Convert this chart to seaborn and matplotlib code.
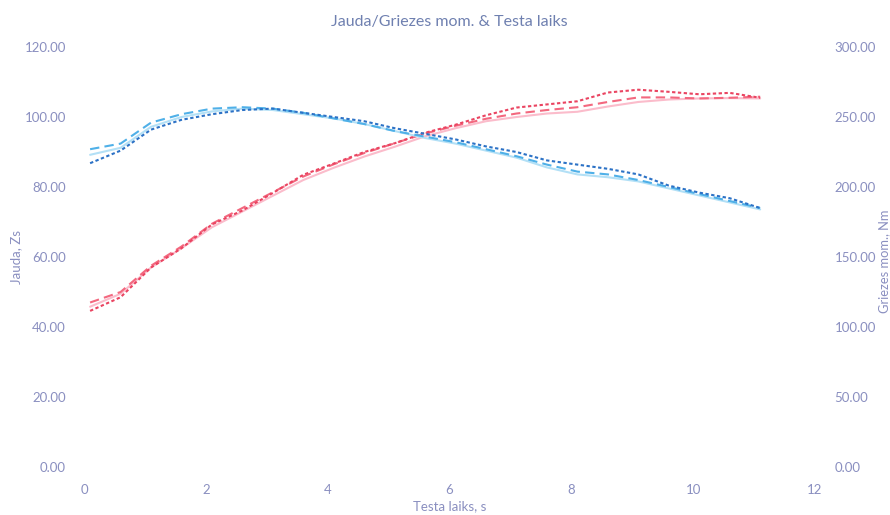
import numpy as np
import pandas as pd
import matplotlib
matplotlib.use("Agg")
import matplotlib.pyplot as plt
import seaborn as sns

# Test time samples, s
time_s = [0.1, 0.6, 1.1, 1.6, 2.1, 2.6, 3.1, 3.6, 4.1, 4.6, 5.1, 5.6,
          6.1, 6.6, 7.1, 7.6, 8.1, 8.6, 9.1, 9.6, 10.1, 10.6, 11.1]

# Power runs, Zs (left axis)
power_run1 = [44.6, 48.5, 57.0, 62.5, 69.3, 73.3, 78.3, 83.5, 86.7, 90.0, 92.5, 95.5,
              97.8, 100.5, 102.7, 103.6, 104.5, 107.0, 107.8, 107.2, 106.5, 106.9, 105.5]
power_run2 = [47.0, 50.0, 57.5, 63.0, 69.5, 74.0, 78.5, 83.0, 86.5, 89.7, 92.5, 95.3,
              97.5, 99.5, 101.0, 102.0, 102.8, 104.3, 105.6, 105.6, 105.3, 105.5, 105.8]
power_run3 = [45.8, 49.5, 57.0, 62.5, 68.5, 73.0, 77.5, 82.0, 85.5, 88.7, 91.5, 94.5,
              96.8, 98.8, 100.0, 101.0, 101.5, 103.0, 104.3, 105.0, 105.3, 105.4, 105.3]

# Torque runs, Nm (right axis)
torque_run1 = [217, 226, 241, 248, 252, 255, 256, 253, 250, 247, 242, 238,
               234, 229, 225, 219, 216, 213, 209, 201, 196, 192, 185]
torque_run2 = [227, 231, 246, 252, 256, 257, 256, 253, 249, 245, 240, 236,
               232, 227, 222, 216, 211, 209, 205, 200, 195, 190, 185]
torque_run3 = [223, 228, 243, 250, 254, 256, 255, 252, 249, 245, 240, 235,
               231, 226, 221, 214, 209, 207, 204, 199, 194, 189, 184]

x_ticks = [0, 2, 4, 6, 8, 10, 12]
left_ticks = [0, 20, 40, 60, 80, 100, 120]
right_ticks = [0, 50, 100, 150, 200, 250, 300]

sns.set_theme(style="white")
plt.rcParams["font.family"] = ["Lato", "DejaVu Sans"]

text_col = "#8a8fc0"
title_col = "#6f80b0"

fig = plt.figure(figsize=(8.9, 5.15), dpi=100)
ax = fig.add_axes([0.0944, 0.0932, 0.8213, 0.8155])
ax2 = ax.twinx()

df = pd.DataFrame({"t": time_s,
                   "p1": power_run1, "p2": power_run2, "p3": power_run3,
                   "m1": torque_run1, "m2": torque_run2, "m3": torque_run3})

lw = 1.5
# torque curves
sns.lineplot(data=df, x="t", y="m3", ax=ax2, color="#b3e0f6", lw=lw, linestyle="-")
sns.lineplot(data=df, x="t", y="m2", ax=ax2, color="#4fb0e8", lw=lw,
             linestyle=(0, (4.5, 2.5)))
sns.lineplot(data=df, x="t", y="m1", ax=ax2, color="#2c72c6", lw=lw,
             linestyle=(0, (1.6, 1.2)))
# power curves
sns.lineplot(data=df, x="t", y="p3", ax=ax, color="#fbbccb", lw=lw, linestyle="-")
sns.lineplot(data=df, x="t", y="p2", ax=ax, color="#f3687f", lw=lw,
             linestyle=(0, (4.5, 2.5)))
sns.lineplot(data=df, x="t", y="p1", ax=ax, color="#ea4461", lw=lw,
             linestyle=(0, (1.6, 1.2)))

ax.set_xlim(0, 12)
ax.set_ylim(0, 120)
ax2.set_ylim(0, 300)
ax.set_xticks(x_ticks)
ax.set_xticklabels([str(v) for v in x_ticks])
ax.set_yticks(left_ticks)
ax.set_yticklabels([f"{v:.2f}" for v in left_ticks])
ax2.set_yticks(right_ticks)
ax2.set_yticklabels([f"{v:.2f}" for v in right_ticks])

for a in (ax, ax2):
    for s in a.spines.values():
        s.set_visible(False)
    a.grid(False)
    a.tick_params(length=0, colors=text_col, labelsize=9.5)

ax.tick_params(axis="y", pad=13)
ax.tick_params(axis="x", pad=12)
ax2.tick_params(axis="y", pad=14)

ax.set_xlabel("Testa laiks, s", color=text_col, fontsize=9.5)
ax.set_ylabel("Jauda, Zs", color=text_col, fontsize=9.5)
ax2.set_ylabel("Griezes mom., Nm", color=text_col, fontsize=9.3)
ax.xaxis.set_label_coords(0.5, -0.079)
ax.yaxis.set_label_coords(-0.085, 0.5)
ax2.yaxis.set_label_coords(1.0865, 0.49)
ax.set_title("Jauda/Griezes mom. & Testa laiks", color=title_col, fontsize=11.5, pad=15)

fig.savefig("out.png", dpi=100, facecolor="white")
